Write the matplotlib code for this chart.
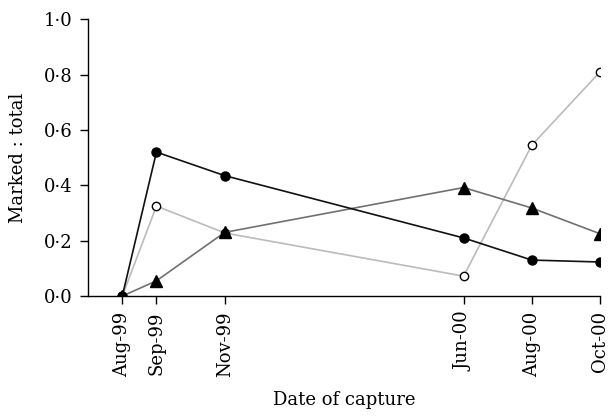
import matplotlib.pyplot as plt
from matplotlib.ticker import FuncFormatter

# Capture dates, placed by months since Aug-99
dates = ["Aug-99", "Sep-99", "Nov-99", "Jun-00", "Aug-00", "Oct-00"]
months = [0, 1, 3, 10, 12, 14]

# Marked : total ratio for each group
filled = [0.0, 0.52, 0.435, 0.21, 0.13, 0.123]
open_ = [0.0, 0.325, 0.228, 0.072, 0.545, 0.81]
triangle = [0.0, 0.055, 0.23, 0.392, 0.318, 0.225]

plt.rcParams["font.family"] = "DejaVu Serif"
plt.rcParams["font.size"] = 13

fig = plt.figure(figsize=(6.08, 4.17), dpi=100)
ax = fig.add_axes([0.145, 0.29, 0.842, 0.664])

ax.plot(months, open_, color="#bbbbbb", lw=1.2, marker="o", ms=6,
        mfc="white", mec="black", mew=1.0, zorder=2)
ax.plot(months, triangle, color="#707070", lw=1.2, marker="^", ms=8,
        mfc="black", mec="black", zorder=3)
ax.plot(months, filled, color="#111111", lw=1.2, marker="o", ms=6.5,
        mfc="black", mec="black", zorder=4)

ax.set_xlim(-1, 14)
ax.set_ylim(0, 1.0)
ax.set_xticks(months)
ax.set_xticklabels(dates, rotation=90)
ax.set_yticks([0, 0.2, 0.4, 0.6, 0.8, 1.0])
ax.yaxis.set_major_formatter(FuncFormatter(lambda v, p: f"{v:.1f}".replace(".", "·")))

for s in ["top", "right"]:
    ax.spines[s].set_visible(False)
ax.spines["left"].set_linewidth(1.0)
ax.spines["bottom"].set_linewidth(1.0)
ax.tick_params(direction="out", length=6, width=1.0, pad=5)

ax.set_ylabel("Marked : total", labelpad=12)
ax.set_xlabel("Date of capture", labelpad=10)

fig.savefig("out.png", dpi=100)
